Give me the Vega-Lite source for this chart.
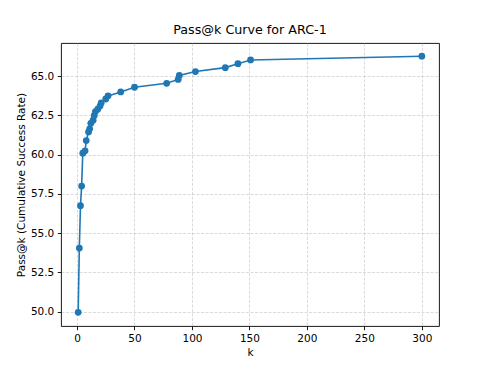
{
  "$schema": "https://vega.github.io/schema/vega-lite/v6.json",
  "width": 378,
  "height": 283,
  "autosize": "none",
  "padding": {"left": 61, "top": 43, "right": 49, "bottom": 40},
  "background": "white",
  "title": {"text": "Pass@k Curve for ARC-1", "font": "DejaVu Sans", "fontSize": 12.7, "fontWeight": "normal", "color": "#000", "anchor": "middle", "frame": "group", "offset": 6},
  "config": {
    "view": {"stroke": "#000", "strokeWidth": 0.9},
    "axis": {
      "labelFont": "DejaVu Sans", "labelFontSize": 10.5, "labelColor": "#000",
      "titleFont": "DejaVu Sans", "titleFontSize": 10.5, "titleFontWeight": "normal", "titleColor": "#000",
      "tickColor": "#000", "tickSize": 3.7, "tickWidth": 0.9, "domain": false,
      "grid": true, "gridColor": "#b0b0b0", "gridDash": [3, 1.5], "gridWidth": 0.7, "gridOpacity": 0.65,
      "labelPadding": 3.5, "titlePadding": 4
    }
  },
  "data": {"values": [
    {"k": 1, "pass": 49.95},
    {"k": 2, "pass": 54.05},
    {"k": 3, "pass": 56.75},
    {"k": 4, "pass": 58.0},
    {"k": 5, "pass": 60.1},
    {"k": 7, "pass": 60.25},
    {"k": 8, "pass": 60.9},
    {"k": 10, "pass": 61.45},
    {"k": 11, "pass": 61.65},
    {"k": 12, "pass": 62.0},
    {"k": 14, "pass": 62.2},
    {"k": 15, "pass": 62.5},
    {"k": 16, "pass": 62.75},
    {"k": 18, "pass": 62.9},
    {"k": 20, "pass": 63.1},
    {"k": 21, "pass": 63.3},
    {"k": 25, "pass": 63.55},
    {"k": 27, "pass": 63.75},
    {"k": 38, "pass": 64.0},
    {"k": 50, "pass": 64.3},
    {"k": 78, "pass": 64.55},
    {"k": 88, "pass": 64.8},
    {"k": 89, "pass": 65.05},
    {"k": 103, "pass": 65.3},
    {"k": 129, "pass": 65.55},
    {"k": 140, "pass": 65.8},
    {"k": 151, "pass": 66.04},
    {"k": 300, "pass": 66.28}
  ]},
  "encoding": {
    "x": {"field": "k", "type": "quantitative", "title": "k",
      "scale": {"domain": [-13.95, 314.95], "nice": false, "zero": false},
      "axis": {"values": [0, 50, 100, 150, 200, 250, 300]}},
    "y": {"field": "pass", "type": "quantitative", "title": "Pass@k (Cumulative Success Rate)",
      "scale": {"domain": [49.08, 67.12], "nice": false, "zero": false},
      "axis": {"values": [50, 52.5, 55, 57.5, 60, 62.5, 65], "format": ".1f"}}
  },
  "layer": [
    {"mark": {"type": "line", "color": "#1f77b4", "strokeWidth": 1.6}},
    {"mark": {"type": "point", "shape": "circle", "filled": true, "opacity": 1, "color": "#1f77b4", "size": 46}}
  ]
}
